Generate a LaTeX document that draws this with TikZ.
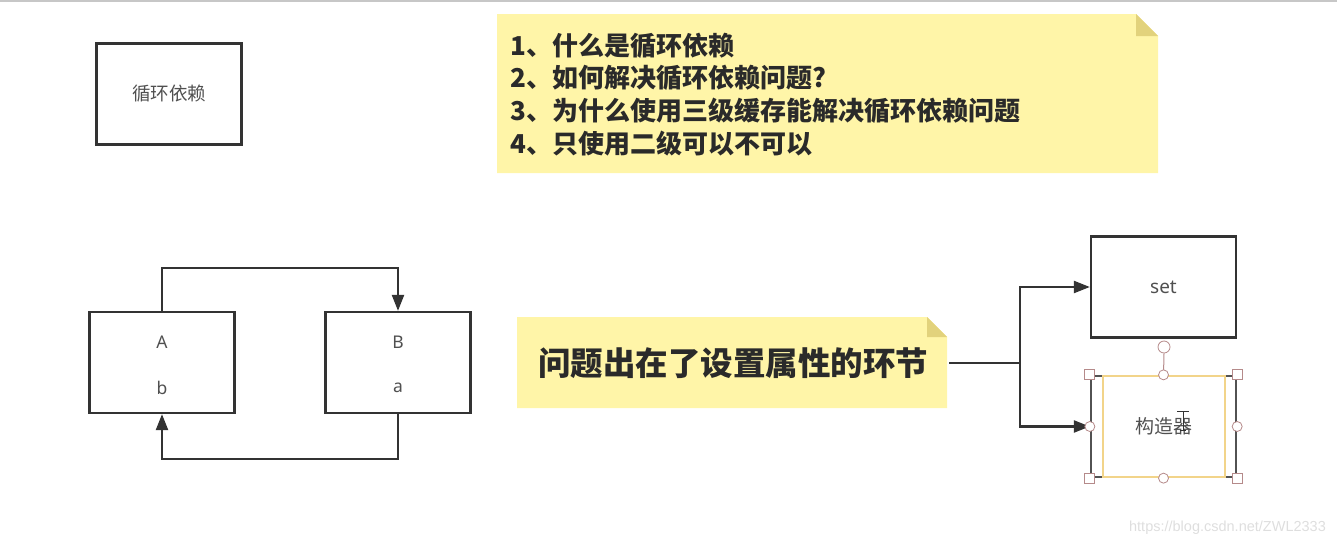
\documentclass[tikz,border=0pt]{standalone}
\usepackage{fontspec}
\setmainfont{Noto Sans}
\newfontfamily\cjk{Noto Sans CJK SC}
\newfontfamily\wm{Liberation Sans}
\usetikzlibrary{arrows.meta}
\definecolor{line}{HTML}{333333}
\definecolor{notefill}{HTML}{FFF5A8}
\definecolor{notefold}{HTML}{E2D27C}
\definecolor{txt}{HTML}{505050}
\definecolor{notetxt}{HTML}{2A2A2A}
\definecolor{sel}{HTML}{F2D48A}
\definecolor{handle}{HTML}{B58A8A}
\tikzset{
  box/.style={draw=line, line width=2.3pt, minimum width=145pt, minimum height=101pt, inner sep=0pt, text=txt},
  lbl/.style={text=txt, font=\fontsize{17.5}{17.5}\selectfont, inner sep=0pt},
  conn/.style={draw=line, line width=2.2pt, -{Triangle[length=16pt,width=12pt]}},
  plain/.style={draw=line, line width=2.2pt},
  sqh/.style={draw=handle, fill=white, line width=0.8pt, minimum size=10pt, inner sep=0pt},
  cih/.style={draw=handle, fill=white, line width=0.8pt, circle, minimum size=10pt, inner sep=0pt},
}
\begin{document}
\begin{tikzpicture}[x=1pt,y=-1pt]
\useasboundingbox (0,0) rectangle (1337,549);
\draw[color=black!22, line width=1.5pt] (0,1) -- (1337,1);

% top-left box
\node[box, font=\cjk\fontsize{18.5}{18.5}\selectfont] (cyc) at (169,94) {循环依赖};

% note 1
\fill[notefill] (497,14) -- (1136,14) -- (1158,36) -- (1158,173) -- (497,173) -- cycle;
\fill[notefold] (1136,14) -- (1158,36) -- (1136,36) -- cycle;
\node[anchor=north west, align=left, text=notetxt, inner sep=0pt,
      font=\cjk\bfseries\fontsize{26}{32.7}\selectfont] (q1) at (510,32.5)
  {1、什么是循环依赖\\2、如何解决循环依赖问题?\\3、为什么使用三级缓存能解决循环依赖问题\\4、只使用二级可以不可以};

% A and B
\node[box] (A) at (162,362.5) {};
\node[box] (B) at (398,362.5) {};
\node[lbl] (Aa) at (162,342) {A};
\node[lbl] (Ab) at (162,388) {b};
\node[lbl] (Ba) at (398,342) {B};
\node[lbl] (Bb) at (398,388) {a};
\draw[conn] (A.north) -- ++(0,-43) -| (B.north);
\draw[conn] (B.south) -- ++(0,45) -| (A.south);

% note 2
\fill[notefill] (517,317) -- (927,317) -- (947,337) -- (947,408) -- (517,408) -- cycle;
\fill[notefold] (927,317) -- (947,337) -- (927,337) -- cycle;
\node[text=notetxt, inner sep=0pt, font=\cjk\bfseries\fontsize{32.5}{32.5}\selectfont] (q2) at (733,363) {问题出在了设置属性的环节};
\coordinate (q2e) at (949,363);
\coordinate (split) at (1020,363);

% set / constructor
\node[box, font=\fontsize{19}{19}\selectfont] (set) at (1163.5,287) {set};
\node[box, draw=line!85, font=\cjk\fontsize{19}{19}\selectfont] (ctor) at (1163.5,426.5) {构造器};
\draw[sel, line width=1.5pt] (1103,376) rectangle (1225,477);

\draw[plain] (q2e) -- (split);
\draw[conn] (split) |- (set.west);
\draw[conn] (split) |- (ctor.west);

% selection handles
\node[cih, minimum size=12pt] (rot) at (1164,347) {};
\draw[handle, line width=1pt] (rot.south) -- (ctor.north);
\node[sqh] (h1) at (ctor.north west) {};
\node[sqh] (h2) at (ctor.north east) {};
\node[sqh] (h3) at (ctor.south west) {};
\node[sqh] (h4) at (ctor.south east) {};
\node[cih] (h5) at (ctor.north) {};
\node[cih] (h6) at (ctor.south) {};
\node[cih] (h7) at (ctor.west) {};
\node[cih] (h8) at (ctor.east) {};

% text cursor
\draw[line, line width=1pt] (1177,411) -- (1189,411) (1183,411) -- (1183,430) (1180,430) -- (1186,430);

% watermark
\node[text=black!13, inner sep=0pt, anchor=east] (wm) at (1326,528) {\wm\fontsize{14.5}{14.5}\selectfont https://blog.csdn.net/ZWL2333};
\end{tikzpicture}
\end{document}
